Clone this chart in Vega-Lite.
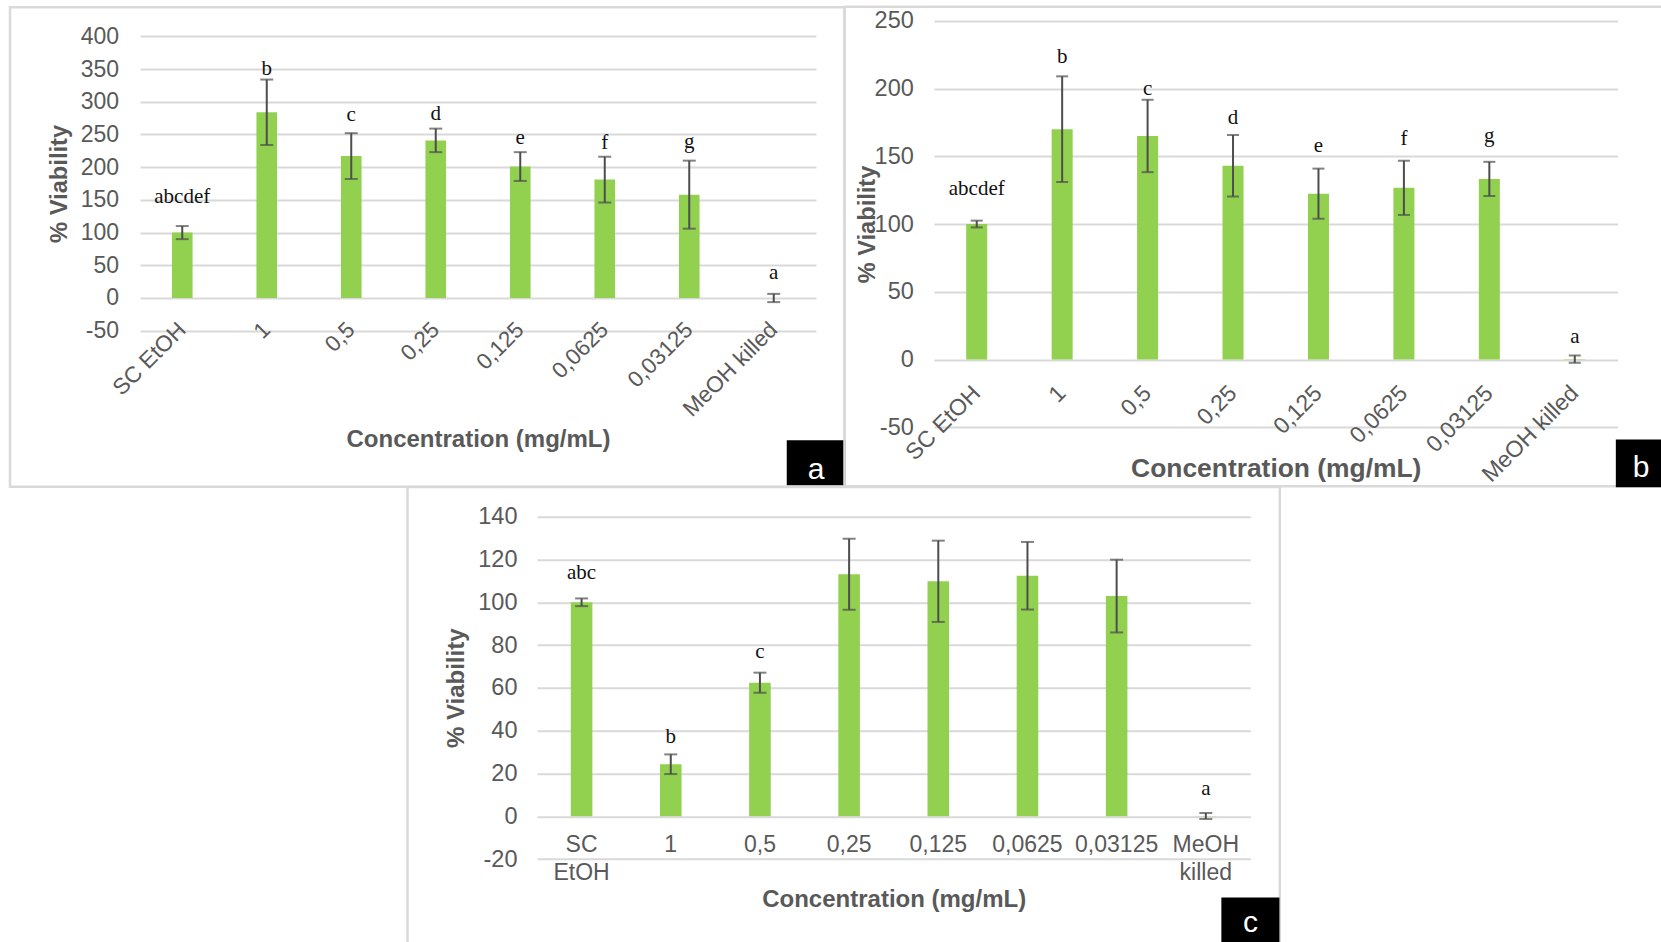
{
  "$schema": "https://vega.github.io/schema/vega-lite/v6.json",
  "autosize": "none",
  "padding": {"left": 140, "top": 19, "right": 1521, "bottom": 923},
  "background": "white",
  "config": {
    "view": {"stroke": null},
    "font": "Liberation Sans",
    "axis": {
      "labelFont": "Liberation Sans",
      "titleFont": "Liberation Sans",
      "labelColor": "#595959",
      "titleColor": "#595959",
      "titleFontWeight": "bold",
      "domain": false,
      "ticks": false,
      "tickSize": 0,
      "gridColor": "#d9d9d9",
      "gridWidth": 2,
      "labelOverlap": false
    }
  },
  "bounds": "flush",
  "spacing": 497.7,
  "vconcat": [
    {
      "bounds": "flush",
      "spacing": 118,
      "hconcat": [
        {
          "width": 676,
          "height": 311.7,
          "layer": [
            {
              "data": {"values": [{"panel": "a"}]},
              "layer": [
                {
                  "mark": {"type": "point", "shape": "M-806,-455.5H28.5V24H-806Z", "size": 4, "filled": false, "color": "#d9d9d9", "strokeWidth": 2.5, "opacity": 1},
                  "encoding": {"x": {"value": "width"}, "y": {"datum": -252, "type": "quantitative"}}
                }
              ]
            },
            {
              "data": {"values": [
                {"conc": "SC EtOH", "v": 100, "err": 10},
                {"conc": "1", "v": 284, "err": 50},
                {"conc": "0,5", "v": 217, "err": 35},
                {"conc": "0,25", "v": 241, "err": 18},
                {"conc": "0,125", "v": 201, "err": 22},
                {"conc": "0,0625", "v": 181, "err": 35},
                {"conc": "0,03125", "v": 158, "err": 52},
                {"conc": "MeOH killed", "v": 0, "err": 6.3}
              ]},
              "layer": [
                {
                  "mark": {"type": "bar", "color": "#92d050"},
                  "encoding": {
                    "x": {"field": "conc", "type": "nominal", "title": "Concentration (mg/mL)",
                      "scale": {"domain": ["SC EtOH", "1", "0,5", "0,25", "0,125", "0,0625", "0,03125", "MeOH killed"], "paddingInner": 0.756, "paddingOuter": 0.378},
                      "axis": {"labelAngle": -45, "labelAlign": "right", "labelBaseline": "middle", "labelPadding": 28, "offset": -33, "labelFontSize": 22.5, "titleFontSize": 24, "titleY": 141.6, "titleBaseline": "middle", "grid": false, "labelOverlap": false}},
                    "y": {"field": "v", "type": "quantitative", "title": "% Viability",
                      "scale": {"domain": [-50, 426.6], "nice": false, "zero": false},
                      "axis": {"values": [-50, 0, 50, 100, 150, 200, 250, 300, 350, 400], "tickCount": 20, "labelExpr": "replace(datum.label, '\u2212', '-')", "labelOverlap": false, "labelFontSize": 23, "labelPadding": 21.5, "titleFontSize": 23.7, "titleX": -81, "titleY": 164.4, "titleBaseline": "middle", "grid": true}}
                  }
                },
                {
                  "mark": {"type": "errorbar", "color": "#4d4d4d", "thickness": 2, "ticks": {"size": 13}},
                  "encoding": {
                    "x": {"field": "conc", "type": "nominal", "title": "Concentration (mg/mL)"},
                    "y": {"field": "v", "type": "quantitative", "title": "% Viability"},
                    "yError": {"field": "err"}
                  }
                }
              ]
            },
            {
              "data": {"values": [
                {"conc": "SC EtOH", "letter": "abcdef", "at": 145.3},
                {"conc": "1", "letter": "b", "at": 340.5},
                {"conc": "0,5", "letter": "c", "at": 270.6},
                {"conc": "0,25", "letter": "d", "at": 272.8},
                {"conc": "0,125", "letter": "e", "at": 236},
                {"conc": "0,0625", "letter": "f", "at": 228.4},
                {"conc": "0,03125", "letter": "g", "at": 230},
                {"conc": "MeOH killed", "letter": "a", "at": 29.6}
              ]},
              "mark": {"type": "text", "font": "Liberation Serif", "fontSize": 21, "color": "#111111", "baseline": "alphabetic", "align": "center"},
              "encoding": {
                "x": {"field": "conc", "type": "nominal", "title": "Concentration (mg/mL)"},
                "y": {"field": "at", "type": "quantitative", "title": "% Viability"},
                "text": {"field": "letter"}
              }
            },
            {
              "data": {"values": [{"panel": "a"}]},
              "layer": [
                {
                  "mark": {"type": "point", "shape": "M-1.3,-1H1.3V1H-1.3Z", "size": 2025, "filled": true, "color": "#000000", "opacity": 1, "strokeWidth": 0},
                  "encoding": {"x": {"value": "width"}, "y": {"datum": -252, "type": "quantitative"}}
                },
                {
                  "mark": {"type": "text", "color": "#ffffff", "fontSize": 30, "font": "Liberation Sans", "baseline": "alphabetic", "align": "center"},
                  "encoding": {"x": {"value": "width"}, "y": {"datum": -276, "type": "quantitative"}, "text": {"field": "panel"}}
                }
              ]
            }
          ]
        },
        {
          "width": 683.5,
          "height": 408.3,
          "layer": [
            {
              "data": {"values": [{"panel": "b"}]},
              "layer": [
                {
                  "mark": {"type": "point", "shape": "M-773,-456.5H47.5V23H-773Z", "size": 4, "filled": false, "color": "#d9d9d9", "strokeWidth": 2.5, "opacity": 1},
                  "encoding": {"x": {"value": "width"}, "y": {"datum": -76.6, "type": "quantitative"}}
                }
              ]
            },
            {
              "data": {"values": [
                {"conc": "SC EtOH", "v": 100, "err": 2.5},
                {"conc": "1", "v": 170, "err": 39},
                {"conc": "0,5", "v": 165, "err": 26.7},
                {"conc": "0,25", "v": 143, "err": 22.7},
                {"conc": "0,125", "v": 122.4, "err": 18.5},
                {"conc": "0,0625", "v": 126.7, "err": 20},
                {"conc": "0,03125", "v": 133.3, "err": 12.6},
                {"conc": "MeOH killed", "v": 0.3, "err": 2.7}
              ]},
              "layer": [
                {
                  "mark": {"type": "bar", "color": "#92d050"},
                  "encoding": {
                    "x": {"field": "conc", "type": "nominal", "title": "Concentration (mg/mL)",
                      "scale": {"domain": ["SC EtOH", "1", "0,5", "0,25", "0,125", "0,0625", "0,03125", "MeOH killed"], "paddingInner": 0.754, "paddingOuter": 0.377},
                      "axis": {"labelAngle": -45, "labelAlign": "right", "labelBaseline": "middle", "labelPadding": 29.5, "offset": -67.6, "labelFontSize": 23, "titleFontSize": 26.4, "titleY": 108.6, "titleBaseline": "middle", "grid": false, "labelOverlap": false}},
                    "y": {"field": "v", "type": "quantitative", "title": "% Viability",
                      "scale": {"domain": [-50, 251.3], "nice": false, "zero": false},
                      "axis": {"values": [-50, 0, 50, 100, 150, 200, 250], "tickCount": 20, "labelExpr": "replace(datum.label, '\u2212', '-')", "labelOverlap": false, "labelFontSize": 23.5, "labelPadding": 20.7, "titleFontSize": 23.6, "titleX": -66.5, "titleY": 205, "titleBaseline": "middle", "grid": true}}
                  }
                },
                {
                  "mark": {"type": "errorbar", "color": "#4d4d4d", "thickness": 2, "ticks": {"size": 12}},
                  "encoding": {
                    "x": {"field": "conc", "type": "nominal", "title": "Concentration (mg/mL)"},
                    "y": {"field": "v", "type": "quantitative", "title": "% Viability"},
                    "yError": {"field": "err"}
                  }
                }
              ]
            },
            {
              "data": {"values": [
                {"conc": "SC EtOH", "letter": "abcdef", "at": 121.5},
                {"conc": "1", "letter": "b", "at": 219.1},
                {"conc": "0,5", "letter": "c", "at": 195.3},
                {"conc": "0,25", "letter": "d", "at": 173.9},
                {"conc": "0,125", "letter": "e", "at": 153.5},
                {"conc": "0,0625", "letter": "f", "at": 158.4},
                {"conc": "0,03125", "letter": "g", "at": 160.4},
                {"conc": "MeOH killed", "letter": "a", "at": 12.5}
              ]},
              "mark": {"type": "text", "font": "Liberation Serif", "fontSize": 21, "color": "#111111", "baseline": "alphabetic", "align": "center"},
              "encoding": {
                "x": {"field": "conc", "type": "nominal", "title": "Concentration (mg/mL)"},
                "y": {"field": "at", "type": "quantitative", "title": "% Viability"},
                "text": {"field": "letter"}
              }
            },
            {
              "data": {"values": [{"panel": "b"}]},
              "layer": [
                {
                  "mark": {"type": "point", "shape": "M-0.07,-1H3V1H-0.07Z", "size": 2280, "filled": true, "color": "#000000", "opacity": 1, "strokeWidth": 0},
                  "encoding": {"x": {"value": "width"}, "y": {"datum": -76.6, "type": "quantitative"}}
                },
                {
                  "mark": {"type": "text", "color": "#ffffff", "fontSize": 30, "font": "Liberation Sans", "baseline": "alphabetic", "align": "center", "dx": 23.5},
                  "encoding": {"x": {"value": "width"}, "y": {"datum": -86.8, "type": "quantitative"}, "text": {"field": "panel"}}
                }
              ]
            }
          ]
        }
      ]
    },
    {
      "bounds": "flush",
      "spacing": 118,
      "hconcat": [
        {
          "width": 278.2,
          "height": 1,
          "data": {"values": []},
          "mark": "point"
        },
        {
          "width": 713.4,
          "height": 342.3,
          "layer": [
            {
              "data": {"values": [{"panel": "c"}]},
              "layer": [
                {
                  "mark": {"type": "point", "shape": "M-842.9,-433H29.4V26H-842.9Z", "size": 4, "filled": false, "color": "#d9d9d9", "strokeWidth": 2.5, "opacity": 1},
                  "encoding": {"x": {"value": "width"}, "y": {"datum": -48.5, "type": "quantitative"}}
                }
              ]
            },
            {
              "data": {"values": [
                {"conc": "SC EtOH", "v": 100, "err": 1.8},
                {"conc": "1", "v": 24.3, "err": 4.6},
                {"conc": "0,5", "v": 62.4, "err": 4.7},
                {"conc": "0,25", "v": 113.1, "err": 16.6},
                {"conc": "0,125", "v": 109.8, "err": 19},
                {"conc": "0,0625", "v": 112.4, "err": 15.8},
                {"conc": "0,03125", "v": 102.9, "err": 17},
                {"conc": "MeOH killed", "v": 0.1, "err": 1.4}
              ]},
              "layer": [
                {
                  "mark": {"type": "bar", "color": "#92d050"},
                  "encoding": {
                    "x": {"field": "conc", "type": "nominal", "title": "Concentration (mg/mL)",
                      "scale": {"domain": ["SC EtOH", "1", "0,5", "0,25", "0,125", "0,0625", "0,03125", "MeOH killed"], "paddingInner": 0.758, "paddingOuter": 0.379},
                      "axis": {"labelAngle": 0, "labelAlign": "center", "labelBaseline": "top", "labelExpr": "split(datum.label, ' ')", "labelLineHeight": 27.6, "labelPadding": 17.5, "offset": -43, "labelFontSize": 23, "titleFontSize": 24, "titleY": 83.3, "titleBaseline": "middle", "grid": false, "labelOverlap": false}},
                    "y": {"field": "v", "type": "quantitative", "title": "% Viability",
                      "scale": {"domain": [-20, 140], "nice": false, "zero": false},
                      "axis": {"values": [-20, 0, 20, 40, 60, 80, 100, 120, 140], "tickCount": 20, "labelExpr": "replace(datum.label, '\u2212', '-')", "labelOverlap": false, "labelFontSize": 23.5, "labelPadding": 20, "titleFontSize": 24, "titleX": -80.6, "titleY": 171.1, "titleBaseline": "middle", "grid": true}}
                  }
                },
                {
                  "mark": {"type": "errorbar", "color": "#4d4d4d", "thickness": 2, "ticks": {"size": 13}},
                  "encoding": {
                    "x": {"field": "conc", "type": "nominal", "title": "Concentration (mg/mL)"},
                    "y": {"field": "v", "type": "quantitative", "title": "% Viability"},
                    "yError": {"field": "err"}
                  }
                }
              ]
            },
            {
              "data": {"values": [
                {"conc": "SC EtOH", "letter": "abc", "at": 111.1},
                {"conc": "1", "letter": "b", "at": 34.4},
                {"conc": "0,5", "letter": "c", "at": 74},
                {"conc": "MeOH killed", "letter": "a", "at": 9.8}
              ]},
              "mark": {"type": "text", "font": "Liberation Serif", "fontSize": 21, "color": "#111111", "baseline": "alphabetic", "align": "center"},
              "encoding": {
                "x": {"field": "conc", "type": "nominal", "title": "Concentration (mg/mL)"},
                "y": {"field": "at", "type": "quantitative", "title": "% Viability"},
                "text": {"field": "letter"}
              }
            },
            {
              "data": {"values": [{"panel": "c"}]},
              "layer": [
                {
                  "mark": {"type": "point", "shape": "M-1.29,-1H1.29V1H-1.29Z", "size": 2025, "filled": true, "color": "#000000", "opacity": 1, "strokeWidth": 0},
                  "encoding": {"x": {"value": "width"}, "y": {"datum": -48.5, "type": "quantitative"}}
                },
                {
                  "mark": {"type": "text", "color": "#ffffff", "fontSize": 30, "font": "Liberation Sans", "baseline": "alphabetic", "align": "center"},
                  "encoding": {"x": {"value": "width"}, "y": {"datum": -53.9, "type": "quantitative"}, "text": {"field": "panel"}}
                }
              ]
            }
          ]
        }
      ]
    }
  ]
}
